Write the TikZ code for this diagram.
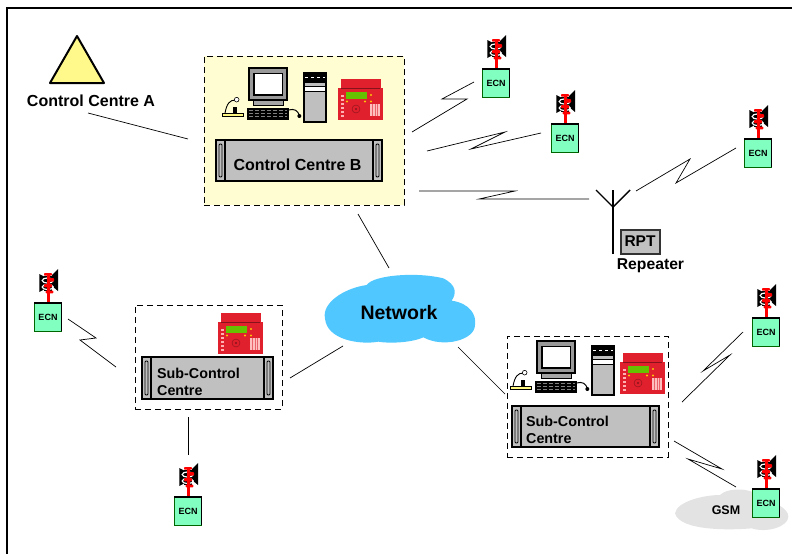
\documentclass[tikz,border=0pt]{standalone}
\usepackage{fontspec}
\setmainfont{Liberation Sans}
\definecolor{netblue}{HTML}{50C8FF}
\definecolor{ecngreen}{HTML}{80FFC0}
\definecolor{rackgray}{HTML}{C0C0C0}
\definecolor{panelred}{HTML}{E0202C}
\tikzset{
  % red alarm panel
  pics/alarmpanel/.style={code={
    \fill[panelred] (3,0) rectangle (43,11);
    \fill[panelred] (0,9) rectangle (45,41);
    \fill[panelred!60!black] (3,9) rectangle (42,10.2);
    \fill[green!60!black!60!yellow] (8,13) rectangle (29,19.5);
    \foreach \dy in {16,20,24,28,32,36} {\fill[white!70!red] (2.5,\dy) rectangle (6,\dy+2);}
    \foreach \dx in {9,27,33} {\fill[yellow!80!red] (\dx,22.5) circle (1.2);}
    \fill[yellow!80!red] (33,16) circle (1.2);
    \draw[panelred!60!black] (18,30) circle (4);
    \fill[panelred!60!black] (18,30) circle (1.2);
    \fill[white!75!red] (32,25) rectangle (42,37);
    \foreach \kx in {34.5,37,39.5} {\draw[panelred!70, line width=.5pt] (\kx,25) -- (\kx,37);}
  }},
  % monitor, keyboard, microphone and tower
  pics/workstation/.style={code={
    \begin{scope}[scale=1/3]
    \draw[line width=1.8pt, fill=black!40] (148,55) rectangle (262,150);
    \draw[line width=1.5pt, fill=white] (162,70) rectangle (248,135);
    \draw[line width=1.2pt, fill=black!35] (160,150) rectangle (250,166);
    \fill[black] (140,175) rectangle (268,210);
    \foreach \ky in {182,190,198} {\draw[black!50, line width=.5pt, dash pattern=on 4pt off 2pt] (148,\ky) -- (260,\ky);}
    \draw[line width=1pt] (265,180) .. controls (285,175) and (292,182) .. (298,195);
    \fill[black] (298,198) circle (6);
    \draw[line width=.9pt, fill=yellow!50] (68,190) rectangle (130,200);
    \fill[black] (100,172) rectangle (112,190);
    \draw[line width=.9pt] (75,190) .. controls (80,160) and (90,150) .. (106,150);
    \draw[line width=.6pt, fill=white] (110,149) circle (7);
    \fill[black] (310,65) rectangle (382,218);
    \draw[white, line width=.6pt, dash pattern=on 3pt off 3pt] (316,83) -- (376,83);
    \fill[black!25] (316,98) rectangle (376,108);
    \fill[white] (316,112) rectangle (376,122);
    \fill[black!25] (316,126) rectangle (376,212);
    \end{scope}
  }},
  % emergency control node with its loudspeakers
  pics/ecn/.style={code={
    \fill[black] (5.3,-29) -- (11,-26) -- (11,-14) -- (5.3,-11) -- cycle;
    \fill[black] (24,-34) -- (18,-28) -- (18,-17) -- (24,-12) -- cycle;
    \fill[black] (10,-27) rectangle (18,-12);
    \draw[white, line width=1.2pt] (13.7,-22.5) ellipse (5.5 and 2.6);
    \draw[white, line width=1.2pt] (13.7,-16) ellipse (5.5 and 2.6);
    \fill[red] (12.7,-10) rectangle (16,0);
    \fill[red, rounded corners=.8pt] (10,-30) rectangle (18,-27.3);
    \fill[red, rounded corners=.8pt] (13.7,-25) rectangle (20,-21.3);
    \fill[red, rounded corners=.8pt] (10,-19) rectangle (18,-15.7);
    \fill[red, rounded corners=.8pt] (11.7,-12.3) rectangle (19.3,-9.7);
    \fill[red] (13,-28) rectangle (15.5,-10);
    \node[ecnbox] (box) at (14,14) {ECN};
    \draw[black, line width=1.3pt] (0,0) -- (27.5,0) -- (27.5,28);
  }},
  ecnbox/.style={rectangle, draw=black!60!green, line width=.8pt, fill=ecngreen, minimum width=27pt, minimum height=28pt, inner sep=0pt, font=\bfseries\fontsize{9}{9}\selectfont},
  rack/.style={rectangle, draw=black, line width=1.2pt, fill=rackgray, inner sep=0pt,
    path picture={
      \draw[line width=1.1pt] ([xshift=9pt]path picture bounding box.north west) -- ([xshift=9pt]path picture bounding box.south west);
      \draw[line width=1.1pt] ([xshift=-9pt]path picture bounding box.north east) -- ([xshift=-9pt]path picture bounding box.south east);
      \draw[line width=.9pt, rounded corners=1pt] ([shift={(3pt,-4pt)}]path picture bounding box.north west) rectangle ([shift={(6pt,4pt)}]path picture bounding box.south west);
      \draw[line width=.9pt, rounded corners=1pt] ([shift={(-3pt,-4pt)}]path picture bounding box.north east) rectangle ([shift={(-6pt,4pt)}]path picture bounding box.south east);
    }},
}
\begin{document}
\begin{tikzpicture}[
    x=1pt, y=-1pt,
    zone/.style={rectangle, draw, dashed, dash pattern=on 6pt off 4pt, line width=.7pt, inner sep=0pt},
    label/.style={font=\bfseries\fontsize{16}{16}\selectfont, inner sep=0pt},
    sublabel/.style={font=\bfseries\fontsize{14.3}{17}\selectfont, inner sep=0pt, align=left, anchor=west},
    link/.style={draw, line width=.7pt}
  ]
  \useasboundingbox (0,0) rectangle (792,554);

  % frame
  \draw[line width=1.4pt] (7,554) -- (7,8) -- (792,8);

  % Control Centre A
  \coordinate (apex) at (77,36);
  \coordinate (baseR) at (104,83);
  \coordinate (baseL) at (50,83);
  \draw[line width=2pt, line join=round, fill=yellow!45] (apex) -- (baseR) -- (baseL) -- cycle;
  \node[label] (ccA) at (91,101) {Control Centre A};

  % Control Centre B
  \node[zone, fill=yellow!18, minimum width=200pt, minimum height=149pt] (ccB) at (304,130.5) {};
  \pic at (200,50) {workstation};
  \pic at (338,79) {alarmpanel};
  \node[rack, minimum width=166pt, minimum height=41pt] (rackB) at (299,160.5) {};
  \node[label] (ccBtext) at (297.5,164.5) {Control Centre B};

  % Sub-control centres
  \node[zone, minimum width=147pt, minimum height=104pt] (subL) at (208.5,357) {};
  \pic at (218,313) {alarmpanel};
  \node[rack, minimum width=131pt, minimum height=42pt] (rackL) at (207.5,378) {};
  \node[sublabel] (subLtext) at (157,381.5) {Sub-Control\\Centre};
  \node[zone, minimum width=161pt, minimum height=121pt] (subR) at (587.5,396.5) {};
  \pic at (488,323) {workstation};
  \pic at (620,353) {alarmpanel};
  \node[rack, minimum width=147pt, minimum height=41pt] (rackR) at (585.5,426.5) {};
  \node[sublabel] (subRtext) at (526,429.5) {Sub-Control\\Centre};

  % Network cloud
  \begin{scope}[shift={(310,260)}, scale=1/3]
    \fill[netblue] (45,175) .. controls (35,130) and (100,85) .. (170,75)
      .. controls (190,45) and (320,35) .. (400,55)
      .. controls (440,75) and (440,100) .. (425,122)
      .. controls (480,130) and (500,165) .. (495,195)
      .. controls (495,240) and (400,265) .. (340,232)
      .. controls (300,250) and (230,250) .. (205,245)
      .. controls (150,255) and (50,240) .. (45,175) -- cycle;
  \end{scope}
  \node[label, font=\bfseries\fontsize{19.5}{20}\selectfont] (net) at (399,313) {Network};

  % GSM cloud
  \begin{scope}[shift={(660,430)}, scale=1/3]
    \fill[black!11] (45,250) .. controls (50,215) and (130,195) .. (180,195)
      .. controls (200,175) and (250,175) .. (275,185)
      .. controls (350,220) and (385,235) .. (385,260)
      .. controls (385,290) and (320,310) .. (275,295)
      .. controls (220,300) and (60,305) .. (45,250) -- cycle;
  \end{scope}
  \node[label, font=\bfseries\fontsize{12.5}{13}\selectfont] (gsm) at (726,510) {GSM};

  % Repeater
  \coordinate (antTop) at (613,190);
  \coordinate (antFoot) at (613,254);
  \coordinate (antFork) at (613,207);
  \coordinate (antL) at (596,190);
  \coordinate (antR) at (630,190);
  \draw[line width=1.4pt] (antFoot) -- (antFork) -- (antTop);
  \draw[line width=1.4pt] (antL) -- (antFork) -- (antR);
  \node[rectangle, draw=black!80, line width=2pt, fill=rackgray, minimum width=39pt, minimum height=24pt, inner sep=0pt, font=\bfseries\fontsize{15.5}{16}\selectfont] (rpt) at (640,241.5) {RPT};
  \node[label, font=\bfseries\fontsize{15.7}{16}\selectfont] (rep) at (650.5,266) {Repeater};

  % ECN units
  \pic (ecnA) at (482,69) {ecn};
  \pic (ecnB) at (551,124) {ecn};
  \pic (ecnC) at (744,139) {ecn};
  \pic (ecnD) at (34,303) {ecn};
  \pic (ecnE) at (174,497) {ecn};
  \pic (ecnF) at (752,318) {ecn};
  \pic (ecnG) at (752,489) {ecn};

  % plain links
  \coordinate (a1) at (88,113);   \coordinate (a2) at (188,139);
  \coordinate (b1) at (358,214);  \coordinate (b2) at (389,268);
  \coordinate (c1) at (290,378);  \coordinate (c2) at (343,346);
  \coordinate (d1) at (458,347);  \coordinate (d2) at (505,394);
  \coordinate (e1) at (188,417);  \coordinate (e2) at (188,455);
  \draw[link] (a1) -- (a2);
  \draw[link] (b1) -- (b2);
  \draw[link] (c1) -- (c2);
  \draw[link] (d1) -- (d2);
  \draw[link] (e1) -- (e2);

  % radio links
  \draw[link] (412,132) -- (467,99) -- (442,99) -- (474,82);
  \draw[link] (427,151) -- (505,132) -- (471,149) -- (541,133);
  \draw[link] (419,191) -- (515,191) -- (479,199) -- (589,199);
  \draw[link] (636,191) -- (690,159) -- (676,183) -- (736,148);
  \draw[link] (68,319) -- (96,338) -- (80,340) -- (116,367);
  \draw[link] (682,402) -- (730,355) -- (703,371) -- (743,332);
  \draw[link] (674,441) -- (722,469) -- (688,459) -- (736,487);
\end{tikzpicture}
\end{document}
